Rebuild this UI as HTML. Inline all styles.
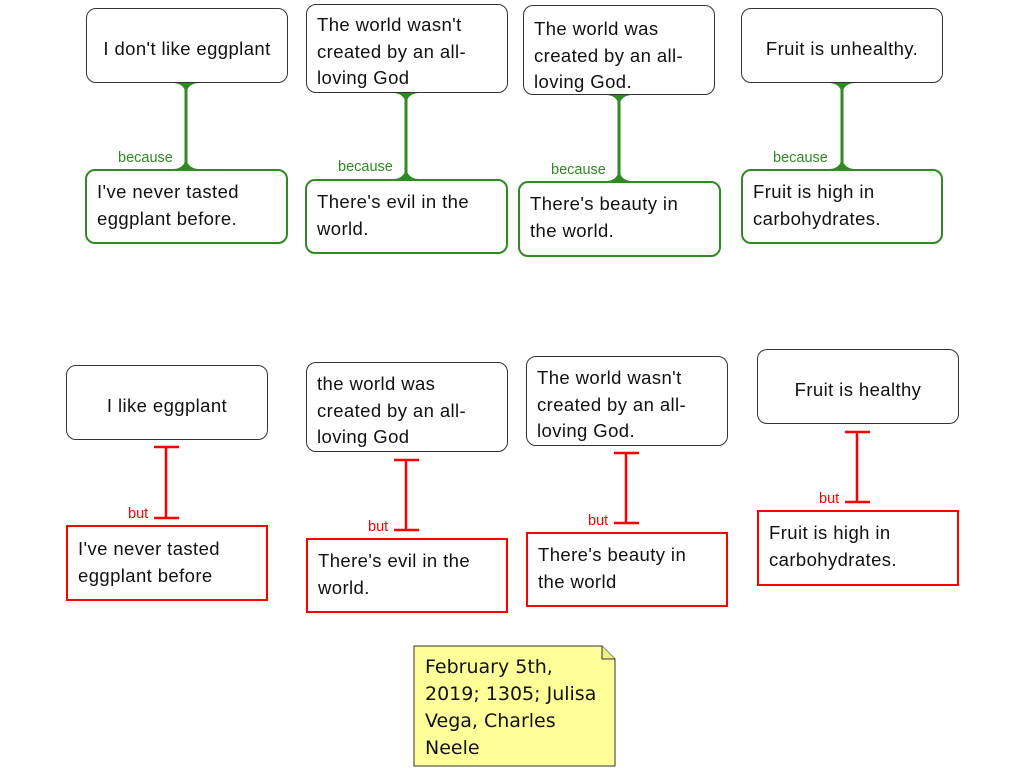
<!DOCTYPE html>
<html><head><meta charset="utf-8"><style>
body{margin:0;width:1024px;height:768px;background:#fff;position:relative;overflow:hidden;font-family:"Liberation Sans",Arial,sans-serif;}
.b{position:absolute;box-sizing:border-box;font-size:18.5px;letter-spacing:0.4px;color:#111;line-height:26.5px;white-space:nowrap;}
.k{border:1px solid #333;border-radius:10px;}
.g{border:2px solid #2e8b22;border-radius:10px;}
.r{border:2px solid #f00;}
.c{display:flex;align-items:center;justify-content:center;text-align:center;padding-top:8px;}
.t{padding:0 10px;}
.l{position:absolute;font-size:14.5px;}
svg{position:absolute;left:0;top:0;}
</style></head><body>
<svg width="1024" height="768">
<g stroke="#2e8b22" stroke-width="3" fill="none">
<path d="M186 83 V169"/><path d="M406 93 V179"/><path d="M619 95 V181"/><path d="M842 83 V169"/>
</g>
<g fill="#2e8b22">
<path d="M174 83 Q186 84 186 97 Q186 84 198 83 Z M174 169 Q186 168 186 155 Q186 168 198 169 Z"/>
<path d="M394 93 Q406 94 406 107 Q406 94 418 93 Z M394 179 Q406 178 406 165 Q406 178 418 179 Z"/>
<path d="M607 95 Q619 96 619 109 Q619 96 631 95 Z M607 181 Q619 180 619 167 Q619 180 631 181 Z"/>
<path d="M830 83 Q842 84 842 97 Q842 84 854 83 Z M830 169 Q842 168 842 155 Q842 168 854 169 Z"/>
</g>
<g stroke="#f00" stroke-width="2.5">
<path d="M166 448 V517 M154 447 H179 M154 518 H179"/>
<path d="M406 461 V529 M394 460 H419 M394 530 H419"/>
<path d="M626 454 V522 M614 453 H639 M614 523 H639"/>
<path d="M857 433 V501 M845 432 H870 M845 502 H870"/>
</g>
<path d="M414 646 H602 L615 659 V766 H414 Z" fill="#ffff99" stroke="#333" stroke-width="1"/>
<path d="M602 646 V659 H615" fill="#eeee88" stroke="#333" stroke-width="1"/>
</svg>
<div class="b k c" style="left:86px;top:8px;width:202px;height:75px">I don't like eggplant</div>
<div class="b k t" style="left:306px;top:4px;width:202px;height:89px;padding-top:7px">The world wasn't<br>created by an all-<br>loving God</div>
<div class="b k t" style="left:523px;top:5px;width:192px;height:90px;padding-top:10px">The world was<br>created by an all-<br>loving God.</div>
<div class="b k c" style="left:741px;top:8px;width:202px;height:75px">Fruit is unhealthy.</div>
<div class="b g t" style="left:85px;top:169px;width:203px;height:75px;padding-top:8px">I've never tasted<br>eggplant before.</div>
<div class="b g t" style="left:305px;top:179px;width:203px;height:75px;padding-top:8px">There's evil in the<br>world.</div>
<div class="b g t" style="left:518px;top:181px;width:203px;height:76px;padding-top:8px">There's beauty in<br>the world.</div>
<div class="b g t" style="left:741px;top:169px;width:202px;height:75px;padding-top:8px">Fruit is high in<br>carbohydrates.</div>
<div class="l" style="left:118px;top:150px;color:#2e8b22">because</div>
<div class="l" style="left:338px;top:159px;color:#2e8b22">because</div>
<div class="l" style="left:551px;top:162px;color:#2e8b22">because</div>
<div class="l" style="left:773px;top:150px;color:#2e8b22">because</div>
<div class="b k c" style="left:66px;top:365px;width:202px;height:75px">I like eggplant</div>
<div class="b k t" style="left:306px;top:362px;width:202px;height:90px;padding-top:8px">the world was<br>created by an all-<br>loving God</div>
<div class="b k t" style="left:526px;top:356px;width:202px;height:90px;padding-top:8px">The world wasn't<br>created by an all-<br>loving God.</div>
<div class="b k c" style="left:757px;top:349px;width:202px;height:75px">Fruit is healthy</div>
<div class="b r t" style="left:66px;top:525px;width:202px;height:76px;padding-top:9px">I've never tasted<br>eggplant before</div>
<div class="b r t" style="left:306px;top:538px;width:202px;height:75px;padding-top:8px">There's evil in the<br>world.</div>
<div class="b r t" style="left:526px;top:532px;width:202px;height:75px;padding-top:8px">There's beauty in<br>the world</div>
<div class="b r t" style="left:757px;top:510px;width:202px;height:76px;padding-top:8px">Fruit is high in<br>carbohydrates.</div>
<div class="l" style="left:128px;top:506px;color:#f00">but</div>
<div class="l" style="left:368px;top:519px;color:#f00">but</div>
<div class="l" style="left:588px;top:513px;color:#f00">but</div>
<div class="l" style="left:819px;top:491px;color:#f00">but</div>
<div class="b" style="left:425px;top:654px;width:180px;letter-spacing:0;white-space:normal;font-family:'Comic Sans MS','DejaVu Sans',sans-serif;font-size:19px;line-height:27px">February 5th, 2019; 1305; Julisa Vega, Charles Neele</div>
</body></html>
